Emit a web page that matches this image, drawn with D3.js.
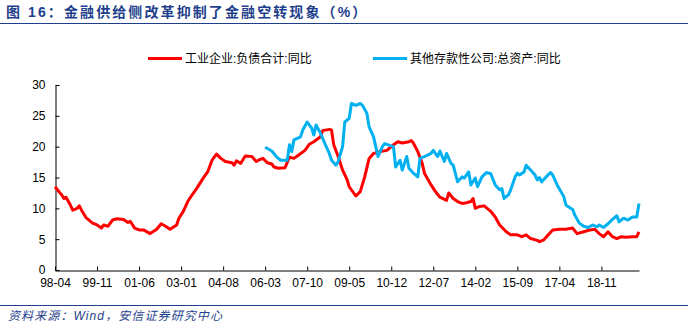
<!DOCTYPE html>
<html><head><meta charset="utf-8">
<script src="https://cdn.jsdelivr.net/npm/d3@7/dist/d3.min.js"></script>
<style>
body{margin:0;background:#fff;}
svg{display:block;}
text{font-family:"Liberation Sans","Noto Sans CJK SC",Arial,sans-serif;}
</style></head>
<body><svg id="c" width="688" height="327"></svg>
<script>
const titleText = "图 16：金融供给侧改革抑制了金融空转现象（%）";
const sourceText = "资料来源：Wind，安信证券研究中心";
const seriesNames = ["工业企业:负债合计:同比", "其他存款性公司:总资产:同比"];
const xTickLabels = ["98-04","99-11","01-06","03-01","04-08","06-03","07-10","09-05","10-12","12-07","14-02","15-09","17-04","18-11"];
const yTicks = [0,5,10,15,20,25,30];

const redDates = ["1998-04","1998-06","1998-07","1998-08","1998-09","1998-11","1998-12","1999-02","1999-03","1999-04","1999-06","1999-09","1999-11","2000-01","2000-02","2000-04","2000-06","2000-08","2000-11","2001-01","2001-02","2001-04","2001-06","2001-08","2001-11","2002-02","2002-04","2002-06","2002-08","2002-11","2002-12","2003-02","2003-04","2003-06","2003-08","2003-11","2004-01","2004-03","2004-05","2004-07","2004-09","2004-12","2005-01","2005-02","2005-04","2005-06","2005-09","2005-11","2005-12","2006-02","2006-04","2006-06","2006-07","2006-09","2006-12","2007-02","2007-04","2007-06","2007-09","2007-11","2008-01","2008-04","2008-05","2008-08","2008-09","2008-10","2008-12","2009-02","2009-04","2009-05","2009-08","2009-10","2009-12","2010-02","2010-04","2010-07","2010-10","2011-01","2011-03","2011-05","2011-08","2011-09","2011-10","2011-12","2012-02","2012-03","2012-06","2012-08","2012-10","2013-01","2013-02","2013-04","2013-06","2013-08","2013-10","2013-12","2014-01","2014-02","2014-04","2014-06","2014-09","2014-11","2015-01","2015-04","2015-06","2015-09","2015-11","2016-01","2016-03","2016-06","2016-07","2016-09","2016-11","2017-01","2017-04","2017-07","2017-10","2017-12","2018-03","2018-06","2018-08","2018-10","2018-12","2019-02","2019-04","2019-06","2019-08","2019-10","2020-01","2020-03","2020-04"];
const redValues = [13.5,12.6,12.2,11.6,11.8,10.5,9.7,10.0,10.4,9.7,8.5,7.6,7.3,6.8,7.3,7.1,8.1,8.3,8.2,7.7,7.9,6.8,6.5,6.5,5.9,6.6,7.5,7.1,6.6,7.3,8.4,9.5,11.1,12.2,13.2,14.9,15.9,17.8,18.8,18.1,17.6,17.4,17.0,17.7,17.3,18.5,18.4,17.6,17.8,18.1,17.4,17.2,16.7,16.5,16.6,18.3,18.1,18.6,19.4,20.4,20.8,21.6,22.6,22.8,22.7,20.3,18.4,16.2,14.7,13.5,12.0,12.7,15.1,18.1,18.9,19.2,19.4,20.3,20.8,20.6,20.8,21.0,20.6,19.2,17.3,15.7,13.8,12.7,11.8,11.3,12.5,11.6,11.1,10.8,10.9,11.1,11.6,10.0,10.3,10.4,9.5,8.6,7.3,6.2,5.7,5.7,5.4,5.7,5.1,4.8,4.6,4.9,5.7,6.5,6.6,6.6,6.8,5.9,6.2,6.5,6.6,5.9,5.4,6.2,5.4,5.1,5.4,5.3,5.4,5.4,6.2];

const blueDates = ["2006-03","2006-06","2006-08","2006-10","2007-01","2007-02","2007-03","2007-04","2007-07","2007-08","2007-10","2007-12","2008-01","2008-02","2008-04","2008-06","2008-08","2008-09","2008-11","2008-12","2009-02","2009-03","2009-05","2009-06","2009-08","2009-10","2009-11","2010-01","2010-02","2010-04","2010-05","2010-06","2010-08","2010-09","2011-01","2011-02","2011-04","2011-05","2011-07","2011-08","2011-10","2011-12","2012-01","2012-03","2012-06","2012-07","2012-09","2012-10","2012-12","2013-01","2013-03","2013-04","2013-06","2013-08","2013-09","2013-11","2013-12","2014-02","2014-03","2014-05","2014-07","2014-09","2014-11","2015-01","2015-02","2015-03","2015-05","2015-06","2015-08","2015-09","2015-10","2015-12","2016-01","2016-03","2016-05","2016-06","2016-07","2016-08","2016-10","2016-12","2017-01","2017-03","2017-06","2017-07","2017-10","2017-11","2018-01","2018-03","2018-05","2018-07","2018-09","2018-10","2018-12","2019-02","2019-04","2019-06","2019-07","2019-09","2019-11","2020-01","2020-03","2020-04"];
const blueValues = [19.9,19.3,18.4,17.8,17.8,20.3,19.2,21.1,21.6,22.7,24.0,23.0,21.9,23.5,22.2,20.5,18.9,17.8,17.0,17.6,20.0,24.0,24.6,27.0,26.7,27.0,26.7,25.4,23.2,21.6,20.0,18.4,20.0,20.5,20.0,16.7,17.8,16.2,18.4,16.5,15.7,15.1,18.1,18.4,18.9,19.4,18.4,19.3,17.6,18.9,17.3,17.0,14.3,15.1,14.9,15.9,13.8,14.9,13.5,15.1,15.8,15.6,13.8,13.0,13.2,11.6,12.2,13.0,15.1,15.7,15.4,15.9,17.0,16.2,15.4,14.6,15.0,14.3,15.1,15.8,15.4,13.8,11.9,10.5,9.8,8.9,7.6,7.1,6.9,7.3,7.0,7.3,6.9,7.5,8.2,8.8,7.8,8.4,8.1,8.6,8.6,10.8];

const startDate = "1998-04", endDate = "2020-04";
const monthIndex = s => { const [y,m] = s.split("-").map(Number); const [y0,m0] = startDate.split("-").map(Number); return (y-y0)*12 + (m-m0); };
const tickIndex = s => { const [yy,mm] = s.split("-").map(Number); return monthIndex((yy>50?1900:2000)+yy+"-"+String(mm).padStart(2,"0")); };

const svg = d3.select("#c");
const navy = "#1f3f8c";

// title
svg.append("text").attr("x",6).attr("y",17).attr("fill",navy)
  .attr("font-size",14).attr("font-weight","bold").attr("letter-spacing",2.1).text(titleText);
svg.append("line").attr("x1",0).attr("x2",688).attr("y1",23.5).attr("y2",23.5).attr("stroke",navy).attr("stroke-width",1.2);

// footer
svg.append("line").attr("x1",0).attr("x2",688).attr("y1",305.5).attr("y2",305.5).attr("stroke",navy).attr("stroke-width",1);
svg.append("text").attr("x",8).attr("y",320).attr("fill",navy).attr("font-size",12)
  .attr("font-style","italic").attr("letter-spacing",1.1).text(sourceText);

const x = d3.scaleLinear().domain([0, monthIndex(endDate)]).range([55, 639]);
const y = d3.scaleLinear().domain([0, 30]).range([270, 85]);

// y axis
const yAxis = d3.axisLeft(y).tickValues(yTicks).tickSizeInner(-4).tickSizeOuter(0).tickPadding(10);
const gy = svg.append("g").attr("transform","translate(55.5,0)").call(yAxis);
gy.select(".domain").attr("stroke","#000");
gy.selectAll(".tick line").attr("stroke","#000");
gy.selectAll("text").attr("font-size",12).attr("fill","#000").attr("font-family","'Liberation Sans',Arial,sans-serif");

// x axis
const xAxis = d3.axisBottom(x).tickValues(xTickLabels.map(tickIndex)).tickFormat((d,i)=>xTickLabels[i])
  .tickSizeInner(-4).tickSizeOuter(0).tickPadding(8);
const gx = svg.append("g").attr("transform","translate(0,270.5)").call(xAxis);
gx.select(".domain").attr("stroke","#000");
gx.selectAll(".tick line").attr("stroke","#000");
gx.selectAll("text").attr("font-size",12).attr("fill","#000").attr("font-family","'Liberation Sans',Arial,sans-serif");

const line = d3.line().x(d=>x(monthIndex(d[0]))).y(d=>y(d[1]));
const red = redDates.map((d,i)=>[d, redValues[i]]);
const blue = blueDates.map((d,i)=>[d, blueValues[i]]);
svg.append("path").datum(red).attr("d",line).attr("fill","none").attr("stroke","#ff0000").attr("stroke-width",3).attr("stroke-linejoin","round");
svg.append("path").datum(blue).attr("d",line).attr("fill","none").attr("stroke","#00b0f0").attr("stroke-width",3).attr("stroke-linejoin","round");

// legend
const legend = [{name:seriesNames[0], color:"#ff0000", x:148},{name:seriesNames[1], color:"#00b0f0", x:373}];
legend.forEach(l=>{
  svg.append("line").attr("x1",l.x).attr("x2",l.x+34).attr("y1",58.5).attr("y2",58.5).attr("stroke",l.color).attr("stroke-width",3);
  svg.append("text").attr("x",l.x+37).attr("y",63).attr("font-size",12).attr("fill","#000").text(l.name);
});
</script></body></html>
